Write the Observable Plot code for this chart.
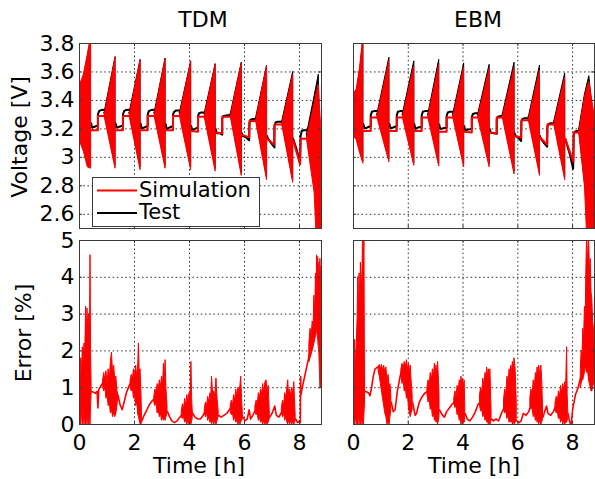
<!DOCTYPE html>
<html><head><meta charset="utf-8">
<script src="https://cdn.jsdelivr.net/npm/d3@7"></script>
<script src="https://cdn.jsdelivr.net/npm/@observablehq/plot@0.6"></script>
<style>
html,body{margin:0;padding:0;background:#fff;}
#root{position:relative;width:595px;height:479px;overflow:hidden;background:#fff;}
#root svg{position:absolute;left:0;top:0;}
</style></head>
<body><div id="root"></div>
<script>
// ---------- tick labels / text ----------
const xTicks = [0, 2, 4, 6, 8];
const vTicks = [2.6, 2.8, 3, 3.2, 3.4, 3.6, 3.8];
const eTicks = [0, 1, 2, 3, 4, 5];
const titles = ["TDM", "EBM"];
const yLabels = ["Voltage [V]", "Error [%]"];
const xLabel = "Time [h]";
const legendLabels = ["Simulation", "Test"];

// ---------- TDM voltage: [cycle, t(h), low(V), high(V)] ----------
const tdmSimBand = [
 [1,0,3.12,3.50],[1,0.16,3.04,3.58],[1,0.30,2.93,3.72],[1,0.42,2.92,3.85],
 [2,0.91,3.29,3.29],[2,1.31,2.92,3.70],
 [3,1.82,3.29,3.29],[3,2.22,2.91,3.68],
 [4,2.73,3.29,3.29],[4,3.13,2.92,3.69],
 [5,3.65,3.29,3.29],[5,4.06,2.91,3.67],
 [6,4.55,3.285,3.285],[6,4.95,2.90,3.65],
 [7,5.50,3.285,3.285],[7,5.90,2.87,3.66],
 [8,6.42,3.255,3.255],[8,6.82,2.84,3.64],
 [9,7.37,3.23,3.23],[9,7.77,2.82,3.58],
 [10,8.27,3.13,3.13],[10,8.55,2.75,3.38],[10,8.62,2.45,3.45],[10,8.70,2.45,3.51],[10,8.76,2.45,3.30],[10,8.80,2.45,3.20]
];
// [segment, t, V]
const tdmSimRest = [
 [1,0.42,3.19],[1,0.67,3.19],[1,0.67,3.29],[1,0.91,3.29],
 [2,1.31,3.19],[2,1.58,3.19],[2,1.58,3.29],[2,1.82,3.29],
 [3,2.22,3.19],[3,2.48,3.19],[3,2.48,3.29],[3,2.73,3.29],
 [4,3.13,3.19],[4,3.40,3.19],[4,3.40,3.29],[4,3.65,3.29],
 [5,4.06,3.185],[5,4.31,3.18],[5,4.31,3.285],[5,4.55,3.285],
 [6,4.95,3.175],[6,5.19,3.17],[6,5.19,3.285],[6,5.50,3.285],
 [7,5.90,3.16],[7,6.17,3.14],[7,6.18,3.255],[7,6.42,3.255],
 [8,6.82,3.13],[8,7.07,3.09],[8,7.09,3.23],[8,7.37,3.23],
 [9,7.77,3.12],[9,8.02,2.95],[9,8.04,3.13],[9,8.27,3.13]
];
const tdmTestBand = [
 [1,0,3.14,3.48],[1,0.16,3.06,3.56],[1,0.30,2.95,3.70],[1,0.42,2.94,3.83],
 [2,0.91,3.31,3.31],[2,1.31,2.94,3.705],
 [3,1.82,3.31,3.31],[3,2.22,2.93,3.685],
 [4,2.73,3.31,3.31],[4,3.13,2.94,3.695],
 [5,3.65,3.31,3.31],[5,4.06,2.93,3.675],
 [6,4.55,3.305,3.305],[6,4.95,2.92,3.655],
 [7,5.50,3.305,3.305],[7,5.90,2.89,3.665],
 [8,6.42,3.275,3.275],[8,6.82,2.86,3.645],
 [9,7.37,3.25,3.25],[9,7.77,2.84,3.60],
 [10,8.27,3.16,3.16],[10,8.55,2.80,3.43],[10,8.70,2.60,3.58],[10,8.72,2.60,3.40]
];
const tdmTestRest = [
 [1,0.42,3.24],[1,0.46,3.21],[1,0.55,3.215],[1,0.67,3.225],[1,0.67,3.30],[1,0.71,3.325],[1,0.80,3.333],[1,0.91,3.335],
 [2,1.31,3.24],[2,1.35,3.21],[2,1.45,3.215],[2,1.58,3.225],[2,1.58,3.30],[2,1.62,3.325],[2,1.70,3.333],[2,1.82,3.335],
 [3,2.22,3.24],[3,2.26,3.205],[3,2.36,3.21],[3,2.48,3.22],[3,2.48,3.30],[3,2.52,3.325],[3,2.60,3.332],[3,2.73,3.335],
 [4,3.13,3.235],[4,3.17,3.20],[4,3.28,3.21],[4,3.40,3.22],[4,3.40,3.30],[4,3.44,3.32],[4,3.52,3.33],[4,3.65,3.33],
 [5,4.06,3.22],[5,4.10,3.19],[5,4.20,3.20],[5,4.31,3.21],[5,4.31,3.29],[5,4.35,3.31],[5,4.43,3.315],[5,4.55,3.315],
 [6,4.95,3.20],[6,4.99,3.17],[6,5.10,3.17],[6,5.19,3.16],[6,5.19,3.27],[6,5.23,3.29],[6,5.35,3.295],[6,5.50,3.295],
 [7,5.90,3.17],[7,5.94,3.15],[7,6.06,3.14],[7,6.17,3.12],[7,6.18,3.24],[7,6.22,3.265],[7,6.30,3.27],[7,6.42,3.27],
 [8,6.82,3.15],[8,6.86,3.13],[8,6.97,3.10],[8,7.09,3.07],[8,7.09,3.22],[8,7.13,3.245],[8,7.20,3.25],[8,7.37,3.25],
 [9,7.77,3.13],[9,7.82,3.10],[9,7.92,3.04],[9,8.02,2.96],[9,8.04,3.15],[9,8.08,3.185],[9,8.15,3.19],[9,8.27,3.19]
];

// ---------- EBM voltage ----------
const ebmSimBand = [
 [1,0,3.15,3.44],[1,0.12,3.12,3.48],[1,0.24,3.03,3.63],[1,0.36,2.955,3.85],
 [2,0.87,3.28,3.28],[2,1.31,2.965,3.675],
 [3,1.80,3.28,3.28],[3,2.22,2.94,3.64],
 [4,2.73,3.28,3.28],[4,3.13,2.935,3.65],
 [5,3.64,3.28,3.28],[5,4.04,2.93,3.63],
 [6,4.55,3.28,3.28],[6,4.97,2.93,3.62],
 [7,5.45,3.28,3.28],[7,5.88,2.88,3.63],
 [8,6.40,3.26,3.26],[8,6.81,2.87,3.61],
 [9,7.33,3.23,3.23],[9,7.73,2.84,3.56],
 [10,8.24,3.175,3.175],[10,8.45,2.80,3.42],[10,8.53,2.45,3.48],[10,8.61,2.45,3.53],[10,8.72,2.45,3.40],[10,8.80,2.45,3.30]
];
const ebmSimRest = [
 [1,0.36,3.185],[1,0.63,3.185],[1,0.63,3.28],[1,0.87,3.28],
 [2,1.31,3.185],[2,1.58,3.185],[2,1.58,3.28],[2,1.80,3.28],
 [3,2.22,3.185],[3,2.49,3.185],[3,2.49,3.28],[3,2.73,3.28],
 [4,3.13,3.18],[4,3.40,3.18],[4,3.40,3.28],[4,3.64,3.28],
 [5,4.04,3.18],[5,4.32,3.175],[5,4.32,3.28],[5,4.55,3.28],
 [6,4.97,3.175],[6,5.23,3.17],[6,5.23,3.28],[6,5.45,3.28],
 [7,5.88,3.15],[7,6.12,3.14],[7,6.13,3.26],[7,6.40,3.26],
 [8,6.81,3.14],[8,7.07,3.09],[8,7.08,3.23],[8,7.33,3.23],
 [9,7.73,3.13],[9,8.03,2.97],[9,8.04,3.175],[9,8.24,3.175]
];
const ebmTestBand = [
 [1,0,3.17,3.42],[1,0.12,3.14,3.46],[1,0.24,3.05,3.60],[1,0.36,2.97,3.83],
 [2,0.87,3.30,3.30],[2,1.31,2.985,3.70],
 [3,1.80,3.30,3.30],[3,2.22,2.96,3.675],
 [4,2.73,3.30,3.30],[4,3.13,2.955,3.685],
 [5,3.64,3.30,3.30],[5,4.04,2.95,3.66],
 [6,4.55,3.30,3.30],[6,4.97,2.95,3.65],
 [7,5.45,3.30,3.30],[7,5.88,2.90,3.665],
 [8,6.40,3.28,3.28],[8,6.81,2.89,3.645],
 [9,7.33,3.25,3.25],[9,7.73,2.86,3.59],
 [10,8.24,3.195,3.195],[10,8.45,2.82,3.44],[10,8.61,2.60,3.57],[10,8.70,2.60,3.40]
];
const ebmTestRest = [
 [1,0.36,3.235],[1,0.40,3.205],[1,0.50,3.21],[1,0.63,3.22],[1,0.63,3.295],[1,0.67,3.32],[1,0.75,3.325],[1,0.87,3.325],
 [2,1.31,3.235],[2,1.35,3.205],[2,1.45,3.21],[2,1.58,3.22],[2,1.58,3.295],[2,1.62,3.32],[2,1.70,3.325],[2,1.80,3.325],
 [3,2.22,3.235],[3,2.26,3.20],[3,2.36,3.21],[3,2.49,3.215],[3,2.49,3.295],[3,2.53,3.32],[3,2.61,3.325],[3,2.73,3.325],
 [4,3.13,3.23],[4,3.17,3.20],[4,3.28,3.205],[4,3.40,3.21],[4,3.40,3.29],[4,3.44,3.315],[4,3.52,3.32],[4,3.64,3.32],
 [5,4.04,3.22],[5,4.08,3.19],[5,4.20,3.195],[5,4.32,3.20],[5,4.32,3.285],[5,4.36,3.305],[5,4.44,3.31],[5,4.55,3.31],
 [6,4.97,3.20],[6,5.01,3.175],[6,5.12,3.17],[6,5.23,3.165],[6,5.23,3.265],[6,5.27,3.285],[6,5.35,3.29],[6,5.45,3.29],
 [7,5.88,3.17],[7,5.92,3.15],[7,6.03,3.135],[7,6.12,3.115],[7,6.13,3.25],[7,6.17,3.27],[7,6.25,3.275],[7,6.40,3.275],
 [8,6.81,3.15],[8,6.85,3.13],[8,6.96,3.10],[8,7.07,3.075],[8,7.08,3.215],[8,7.12,3.235],[8,7.20,3.24],[8,7.33,3.24],
 [9,7.73,3.13],[9,7.78,3.10],[9,7.90,3.02],[9,8.02,2.92],[9,8.04,3.16],[9,8.08,3.18],[9,8.15,3.185],[9,8.24,3.185]
];

// ---------- Error [%]: bursts [cluster, t, low, high], lines [segment, t, e] ----------
const tdmErrBand = [
 [1,0,0.0,1.6],[1,0.03,0.2,1.2],[1,0.06,0.0,1.8],[1,0.09,0.3,1.4],[1,0.12,0.0,2.1],[1,0.15,0.4,1.7],[1,0.18,0.0,2.2],[1,0.21,0.2,1.9],[1,0.24,0.0,3.2],[1,0.27,0.3,2.4],[1,0.29,0.0,3.15],[1,0.32,0.2,2.5],[1,0.35,0.0,3.0],[1,0.38,0.3,2.2],[1,0.40,0.0,4.6],[1,0.42,0.5,2.0],[1,0.44,0.8,1.0],
 [2,0.86,1.0,1.2],[2,0.90,0.9,1.4],[2,0.94,1.0,1.2],[2,0.98,0.7,1.45],[2,1.02,0.8,1.1],[2,1.06,0.5,1.5],[2,1.10,0.6,1.2],[2,1.14,0.3,1.7],[2,1.18,0.4,1.95],[2,1.22,0.2,1.4],[2,1.26,0.3,1.6],[2,1.30,0.2,1.2],[2,1.34,0.3,1.3],[2,1.38,0.5,0.9],[2,1.40,0.7,0.85],
 [3,1.86,1.0,1.2],[3,1.90,0.9,1.35],[3,1.94,1.0,1.2],[3,1.98,0.7,1.5],[3,2.02,0.8,1.3],[3,2.06,0.5,1.6],[3,2.10,0.6,1.3],[3,2.13,0.3,1.5],[3,2.16,0.2,2.2],[3,2.19,0.1,1.4],[3,2.22,0.0,1.5],[3,2.25,0.0,0.9],[3,2.27,0.05,0.3],
 [4,2.72,0.6,0.75],[4,2.76,0.5,0.95],[4,2.80,0.6,0.8],[4,2.84,0.3,1.1],[4,2.88,0.4,0.9],[4,2.92,0.2,1.2],[4,2.96,0.3,1.0],[4,3.00,0.1,1.3],[4,3.04,0.2,1.1],[4,3.07,0.1,1.65],[4,3.10,0.2,1.2],[4,3.13,0.1,1.75],[4,3.16,0.2,1.0],[4,3.20,0.3,0.5],
 [5,3.72,0.2,0.35],[5,3.76,0.15,0.55],[5,3.80,0.2,0.4],[5,3.84,0.05,0.7],[5,3.88,0.1,0.5],[5,3.92,0.0,0.8],[5,3.96,0.1,0.6],[5,4.00,0.0,0.85],[5,4.03,0.05,0.7],[5,4.07,0.0,1.7],[5,4.10,0.1,0.6],[5,4.12,0.2,0.35],
 [6,4.56,0.3,0.45],[6,4.60,0.2,0.6],[6,4.64,0.3,0.5],[6,4.68,0.1,0.75],[6,4.72,0.2,0.6],[6,4.76,0.05,0.85],[6,4.79,0.1,0.7],[6,4.82,0.0,1.3],[6,4.86,0.1,0.8],[6,4.90,0.0,0.9],[6,4.94,0.1,0.75],[6,4.98,0.0,1.25],[6,5.02,0.1,0.7],[6,5.06,0.2,0.35],
 [7,5.50,0.35,0.5],[7,5.54,0.25,0.65],[7,5.58,0.3,0.5],[7,5.62,0.1,0.8],[7,5.66,0.2,0.65],[7,5.70,0.05,0.95],[7,5.74,0.1,0.75],[7,5.78,0.0,1.0],[7,5.82,0.1,0.85],[7,5.85,0.0,1.05],[7,5.88,0.05,1.3],[7,5.91,0.1,0.7],[7,5.94,0.15,0.3],
 [8,6.40,0.35,0.5],[8,6.44,0.25,0.65],[8,6.48,0.3,0.5],[8,6.52,0.1,0.85],[8,6.56,0.2,0.7],[8,6.60,0.05,0.95],[8,6.64,0.1,0.8],[8,6.68,0.0,1.1],[8,6.72,0.1,0.85],[8,6.76,0.0,1.15],[8,6.80,0.05,1.2],[8,6.84,0.0,0.9],[8,6.88,0.05,1.05],[8,6.92,0.15,0.3],
 [9,7.36,0.3,0.45],[9,7.40,0.2,0.65],[9,7.44,0.3,0.5],[9,7.48,0.1,0.85],[9,7.52,0.2,0.7],[9,7.56,0.05,1.0],[9,7.59,0.0,1.2],[9,7.62,0.1,0.8],[9,7.66,0.0,0.95],[9,7.70,0.1,0.75],[9,7.74,0.0,1.0],[9,7.78,0.1,0.8],[9,7.81,0.0,1.15],[9,7.84,0.05,0.6],[9,7.86,0.1,0.25],
 [10,8.36,1.7,2.2],[10,8.40,1.8,2.6],[10,8.44,1.9,2.4],[10,8.48,2.0,2.8],[10,8.51,2.1,2.6],[10,8.54,2.2,3.5],[10,8.57,2.3,3.0],[10,8.60,2.4,4.1],[10,8.62,2.5,3.6],[10,8.64,2.6,4.6],[10,8.66,2.4,3.9],[10,8.68,2.3,4.55],[10,8.70,2.1,3.8],[10,8.72,2.0,4.4],[10,8.74,1.5,3.6],[10,8.76,1.0,4.5],[10,8.78,1.0,3.9],[10,8.80,1.0,4.3]
];
const tdmErrLine = [
 [1,0.43,0.9],[1,0.50,0.88],[1,0.58,0.85],[1,0.64,0.9],[1,0.67,0.45],[1,0.70,0.95],[1,0.78,1.05],[1,0.86,1.15],
 [2,1.40,0.8],[2,1.47,0.55],[2,1.55,0.4],[2,1.62,0.6],[2,1.70,0.85],[2,1.80,1.05],[2,1.88,1.15],
 [3,2.27,0.1],[3,2.35,0.25],[3,2.45,0.4],[3,2.55,0.55],[3,2.65,0.65],[3,2.72,0.7],
 [4,3.20,0.35],[4,3.28,0.2],[4,3.36,0.1],[4,3.45,0.05],[4,3.55,0.1],[4,3.65,0.2],[4,3.72,0.25],
 [5,4.12,0.3],[5,4.20,0.2],[5,4.30,0.15],[5,4.40,0.15],[5,4.50,0.25],[5,4.56,0.35],
 [6,5.06,0.25],[6,5.15,0.2],[6,5.25,0.25],[6,5.35,0.3],[6,5.45,0.4],[6,5.50,0.45],
 [7,5.94,0.2],[7,6.02,0.1],[7,6.10,0.15],[7,6.17,0.4],[7,6.22,0.15],[7,6.30,0.25],[7,6.40,0.4],
 [8,6.92,0.2],[8,7.00,0.3],[8,7.10,0.5],[8,7.16,0.25],[8,7.25,0.2],[8,7.36,0.35],
 [9,7.86,0.15],[9,7.93,0.05],[9,8.00,0.1],[9,8.03,0.05],[9,8.04,1.3],[9,8.05,0.8],[9,8.10,1.0],[9,8.20,1.35],[9,8.30,1.7],[9,8.36,1.9]
];
const ebmErrBand = [
 [1,0,0.1,1.8],[1,0.03,0.0,1.4],[1,0.06,0.0,2.3],[1,0.09,0.2,1.6],[1,0.12,0.0,2.2],[1,0.15,0.1,2.9],[1,0.17,0.0,4.0],[1,0.20,0.3,3.0],[1,0.22,0.0,4.1],[1,0.25,0.2,3.4],[1,0.27,0.0,4.4],[1,0.30,0.2,3.6],[1,0.33,0.0,4.2],[1,0.35,0.1,5.2],[1,0.38,0.0,4.5],[1,0.40,0.3,5.2],[1,0.42,0.6,1.0],
 [2,0.92,1.45,1.55],[2,0.96,1.3,1.62],[2,1.00,1.1,1.5],[2,1.04,0.9,1.62],[2,1.08,0.7,1.45],[2,1.12,0.5,1.6],[2,1.16,0.3,1.4],[2,1.20,0.2,1.55],[2,1.24,0.0,1.2],[2,1.28,0.05,1.35],[2,1.32,0.0,1.0],[2,1.35,0.2,1.1],[2,1.38,0.4,0.8],
 [3,1.75,1.3,1.5],[3,1.79,1.1,1.65],[3,1.83,1.2,1.5],[3,1.87,0.9,1.7],[3,1.91,1.0,1.55],[3,1.95,0.7,1.75],[3,1.99,0.8,1.5],[3,2.03,0.4,1.65],[3,2.06,0.3,1.4],[3,2.09,0.2,1.6],[3,2.12,0.3,1.2],[3,2.16,0.4,0.8],
 [4,2.70,0.8,1.0],[4,2.74,0.6,1.2],[4,2.78,0.7,1.05],[4,2.82,0.4,1.4],[4,2.86,0.5,1.2],[4,2.90,0.2,1.5],[4,2.94,0.3,1.3],[4,2.97,0.1,1.65],[4,3.00,0.2,1.4],[4,3.03,0.05,1.6],[4,3.06,0.1,1.3],[4,3.09,0.0,1.7],[4,3.12,0.1,1.2],[4,3.14,0.2,0.8],
 [5,3.68,0.55,0.7],[5,3.72,0.45,0.9],[5,3.76,0.5,0.75],[5,3.80,0.25,1.05],[5,3.84,0.3,0.9],[5,3.88,0.1,1.2],[5,3.91,0.2,1.0],[5,3.94,0.0,1.3],[5,3.97,0.1,1.1],[5,4.00,0.0,1.25],[5,4.03,0.1,1.0],[5,4.06,0.05,1.2],[5,4.08,0.2,0.5],
 [6,4.62,0.5,0.8],[6,4.66,0.35,1.0],[6,4.70,0.4,0.85],[6,4.74,0.2,1.25],[6,4.78,0.3,1.05],[6,4.82,0.1,1.4],[6,4.85,0.2,1.2],[6,4.88,0.05,1.55],[6,4.91,0.1,1.3],[6,4.94,0.0,1.5],[6,4.97,0.1,1.25],[6,5.00,0.0,1.5],[6,5.04,0.1,0.4],
 [7,5.50,0.4,0.7],[7,5.54,0.3,0.95],[7,5.58,0.35,0.8],[7,5.62,0.15,1.3],[7,5.66,0.25,1.1],[7,5.70,0.05,1.5],[7,5.73,0.15,1.25],[7,5.76,0.05,1.6],[7,5.79,0.1,1.4],[7,5.82,0.0,1.7],[7,5.85,0.1,1.45],[7,5.88,0.0,1.8],[7,5.92,0.05,1.5],[7,5.96,0.1,0.6],
 [8,6.46,0.5,0.75],[8,6.50,0.4,0.95],[8,6.54,0.45,0.8],[8,6.58,0.2,1.2],[8,6.62,0.3,1.0],[8,6.66,0.1,1.4],[8,6.69,0.2,1.2],[8,6.72,0.05,1.55],[8,6.75,0.1,1.3],[8,6.78,0.0,1.6],[8,6.82,0.1,1.35],[8,6.86,0.0,1.6],[8,6.89,0.05,1.2],[8,6.92,0.15,0.5],
 [9,7.38,0.4,0.6],[9,7.42,0.3,0.75],[9,7.46,0.35,0.6],[9,7.50,0.15,0.9],[9,7.54,0.2,0.75],[9,7.58,0.05,1.05],[9,7.62,0.15,0.85],[9,7.66,0.0,1.1],[9,7.70,0.1,0.9],[9,7.73,0.0,1.15],[9,7.76,0.05,0.9],[9,7.80,0.05,2.1],[9,7.82,0.1,0.8],[9,7.84,0.2,0.4],
 [10,8.30,1.0,1.5],[10,8.33,1.1,2.0],[10,8.36,1.2,1.8],[10,8.39,1.2,2.6],[10,8.42,1.3,2.3],[10,8.45,1.4,3.2],[10,8.48,1.6,2.9],[10,8.50,1.5,4.1],[10,8.53,1.4,5.2],[10,8.56,1.5,4.3],[10,8.60,1.2,5.2],[10,8.63,1.1,4.2],[10,8.66,1.0,4.5],[10,8.69,0.9,3.6],[10,8.72,0.9,3.4],[10,8.75,1.0,2.8],[10,8.78,1.1,2.6],[10,8.80,1.5,2.2]
];
const ebmErrLine = [
 [1,0.42,0.9],[1,0.50,0.88],[1,0.56,0.85],[1,0.60,0.78],[1,0.66,1.0],[1,0.72,1.3],[1,0.78,1.5],[1,0.86,1.55],[1,0.93,1.58],
 [2,1.38,0.6],[2,1.45,0.35],[2,1.52,0.4],[2,1.60,0.9],[2,1.70,1.3],[2,1.75,1.45],
 [3,2.16,0.6],[3,2.25,0.25],[3,2.30,0.3],[3,2.40,0.6],[3,2.50,0.75],[3,2.60,0.85],[3,2.70,0.9],
 [4,3.14,0.4],[4,3.25,0.25],[4,3.32,0.2],[4,3.40,0.35],[4,3.50,0.45],[4,3.60,0.55],[4,3.68,0.6],
 [5,4.08,0.3],[5,4.15,0.15],[5,4.25,0.1],[5,4.35,0.2],[5,4.45,0.35],[5,4.55,0.55],[5,4.65,0.6],
 [6,5.04,0.15],[6,5.12,0.1],[6,5.20,0.15],[6,5.30,0.1],[6,5.40,0.3],[6,5.50,0.45],
 [7,5.96,0.1],[7,6.05,0.05],[7,6.12,0.1],[7,6.20,0.3],[7,6.30,0.25],[7,6.40,0.35],[7,6.48,0.55],
 [8,6.92,0.2],[8,7.00,0.4],[8,7.05,0.5],[8,7.10,0.3],[8,7.20,0.25],[8,7.30,0.35],[8,7.38,0.5],
 [9,7.83,0.3],[9,7.90,0.05],[9,7.95,0.0],[9,8.00,0.4],[9,8.10,0.8],[9,8.20,1.0],[9,8.30,1.3]
];

// ---------- helpers ----------
const RED = "#ff0000", BLK = "#000000";
const band = a => a.map(([c, t, lo, hi]) => ({c, t, lo, hi}));
const pts = a => a.map(([c, t, v]) => ({c, t, v}));
const W = 595, H = 479;
const FONT = '"DejaVu Sans", sans-serif';
const root = document.getElementById("root");

function panel({left, right, top, bottom, yDomain, yTicks, showY, showX, marks}) {
  const pw = right - left, ph = bottom - top;
  const gridStyle = {stroke: "#3a3a3a", strokeWidth: 1, strokeDasharray: "1.6,2.6"};
  const tickStyle = {stroke: "#3a3a3a", strokeWidth: 1};
  const plot = Plot.plot({
    width: W, height: H,
    marginLeft: left, marginRight: W - right, marginTop: top, marginBottom: H - bottom,
    style: {fontFamily: FONT, fontSize: "22px", background: "transparent", color: "#000", overflow: "visible"},
    x: {domain: [0, 8.8], axis: showX ? "bottom" : null, ticks: xTicks, tickSize: 0, tickPadding: 10, tickFormat: d => String(d), label: null},
    y: {domain: yDomain, axis: showY ? "left" : null, ticks: yTicks, tickSize: 0, tickPadding: 5, tickFormat: d => String(d), label: null},
    marks: [
      Plot.ruleX(xTicks.filter(d => d > 0), {x: d => d, ...gridStyle}),
      Plot.ruleY(yTicks.filter(d => d > yDomain[0] && d < yDomain[1]), {y: d => d, ...gridStyle}),
      ...marks,
      Plot.ruleX(xTicks, {x: d => d, insetTop: ph - 3, ...tickStyle}),
      Plot.ruleX(xTicks, {x: d => d, insetBottom: ph - 3, ...tickStyle}),
      Plot.ruleY(yTicks, {y: d => d, insetRight: pw - 3, ...tickStyle}),
      Plot.ruleY(yTicks, {y: d => d, insetLeft: pw - 3, ...tickStyle}),
      Plot.frame({stroke: "#3a3a3a", strokeWidth: 1})
    ]
  });
  root.appendChild(plot);
}

function voltageMarks(simBand, simRest, testBand, testRest) {
  return [
    Plot.areaY(band(testBand), {x: "t", y1: "lo", y2: "hi", z: "c", fill: BLK, stroke: BLK, strokeWidth: 1, clip: true}),
    Plot.line(pts(testRest), {x: "t", y: "v", z: "c", stroke: BLK, strokeWidth: 2, clip: true}),
    Plot.areaY(band(simBand), {x: "t", y1: "lo", y2: "hi", z: "c", fill: RED, stroke: RED, strokeWidth: 1, clip: true}),
    Plot.line(pts(simRest), {x: "t", y: "v", z: "c", stroke: RED, strokeWidth: 2, clip: true})
  ];
}
function errorMarks(errBand, errLine) {
  return [
    Plot.areaY(band(errBand), {x: "t", y1: "lo", y2: "hi", z: "c", fill: RED, stroke: RED, strokeWidth: 1, clip: true}),
    Plot.line(pts(errLine), {x: "t", y: "v", z: "c", stroke: RED, strokeWidth: 1.6, clip: true})
  ];
}

// top row: voltage
panel({left: 79, right: 321, top: 43, bottom: 228, yDomain: [2.5, 3.8], yTicks: vTicks, showY: true, showX: false,
  marks: voltageMarks(tdmSimBand, tdmSimRest, tdmTestBand, tdmTestRest)});
panel({left: 353, right: 594, top: 43, bottom: 228, yDomain: [2.5, 3.8], yTicks: vTicks, showY: false, showX: false,
  marks: voltageMarks(ebmSimBand, ebmSimRest, ebmTestBand, ebmTestRest)});
// bottom row: error
panel({left: 79, right: 321, top: 240, bottom: 424, yDomain: [0, 5], yTicks: eTicks, showY: true, showX: true,
  marks: errorMarks(tdmErrBand, tdmErrLine)});
panel({left: 353, right: 594, top: 240, bottom: 424, yDomain: [0, 5], yTicks: eTicks, showY: false, showX: true,
  marks: errorMarks(ebmErrBand, ebmErrLine)});

// ---------- titles, axis labels, legend ----------
const svg = d3.select(root).append("svg").attr("width", W).attr("height", H)
  .style("font-family", FONT).style("font-size", "22px");
svg.append("text").attr("x", 203).attr("y", 27).attr("text-anchor", "middle").text(titles[0]);
svg.append("text").attr("x", 478).attr("y", 27).attr("text-anchor", "middle").text(titles[1]);
svg.append("text").attr("transform", "translate(27,137) rotate(-90)").attr("text-anchor", "middle").text(yLabels[0]);
svg.append("text").attr("transform", "translate(30.5,333) rotate(-90)").attr("text-anchor", "middle").text(yLabels[1]);
svg.append("text").attr("x", 199).attr("y", 473).attr("text-anchor", "middle").text(xLabel);
svg.append("text").attr("x", 474).attr("y", 473).attr("text-anchor", "middle").text(xLabel);

const lg = svg.append("g");
lg.append("rect").attr("x", 92.5).attr("y", 177.5).attr("width", 167).attr("height", 49)
  .attr("fill", "#fff").attr("stroke", "#3a3a3a").attr("stroke-width", 1);
[[RED, 190.5, 197], [BLK, 213, 219]].forEach(([c, ly, ty], i) => {
  lg.append("line").attr("x1", 97).attr("x2", 137).attr("y1", ly).attr("y2", ly)
    .attr("stroke", c).attr("stroke-width", 2);
  lg.append("text").attr("x", 139).attr("y", ty).attr("font-size", "21px").text(legendLabels[i]);
});
</script>
</body></html>
